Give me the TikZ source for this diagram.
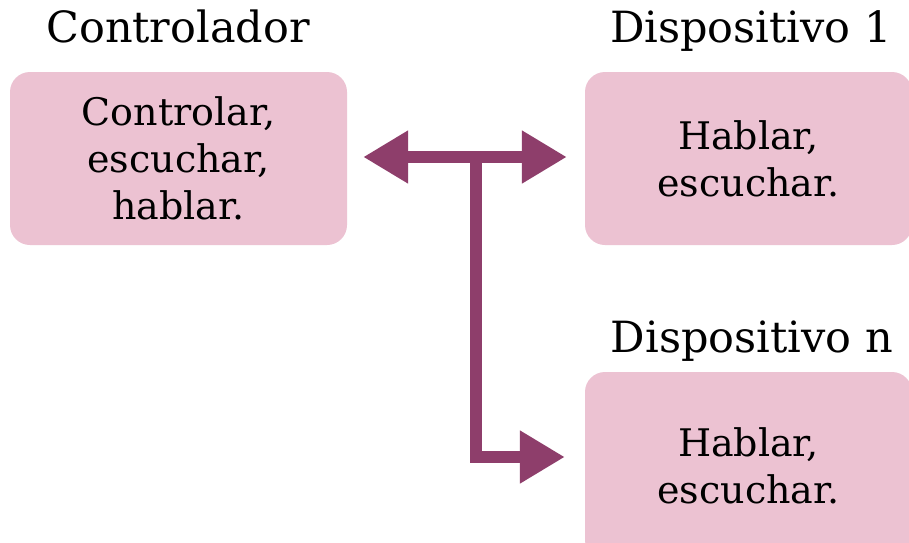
\documentclass[tikz,border=0pt]{standalone}
\usepackage{fontspec}
\setmainfont{DejaVu Serif}
\usetikzlibrary{arrows.meta}
\definecolor{boxpink}{RGB}{236,194,210}
\definecolor{linkplum}{RGB}{142,62,107}
\tikzset{
  bigtip/.tip={Triangle[length=45pt,width=50pt]},
  box/.style={fill=boxpink, rounded corners=20pt, minimum width=337pt, minimum height=173pt,
    align=center, inner sep=0pt, font=\fontsize{38}{47}\selectfont},
  devbox/.style={box, minimum width=327pt},
  title/.style={anchor=base, inner sep=0pt, font=\fontsize{43}{50}\selectfont},
  link/.style={draw=linkplum, line width=12pt, -bigtip},
}
\begin{document}
\begin{tikzpicture}[x=1pt,y=-1pt]
  \clip (0,0) rectangle (909,542);
  \fill[white] (0,0) rectangle (909,542);

  % the three boxes
  \node[box]    (ctrl) at (178.5,158.5) {Controlar,\\escuchar,\\hablar.};
  \node[devbox] (dev1) at (748.5,158.5) {Hablar,\\escuchar.};
  \node[devbox, minimum height=188pt] (devn) at (748.5,466) {Hablar,\\escuchar.};

  % titles above the boxes
  \node[title] (tctrl) at (178,42) {Controlador};
  \node[title] (tdev1) at (751,42) {Dispositivo 1};
  \node[title] (tdevn) at (752,352) {Dispositivo n};

  % bus joining the controller to the devices
  \coordinate (j) at (476,157);
  \coordinate (nin) at (devn.west |- 0,457);
  \draw[link, bigtip-bigtip, shorten <=16pt, shorten >=18pt]
    (ctrl.east |- j) -- (dev1.west |- j);
  \draw[link, shorten >=20pt] (j) |- (nin);
\end{tikzpicture}
\end{document}
